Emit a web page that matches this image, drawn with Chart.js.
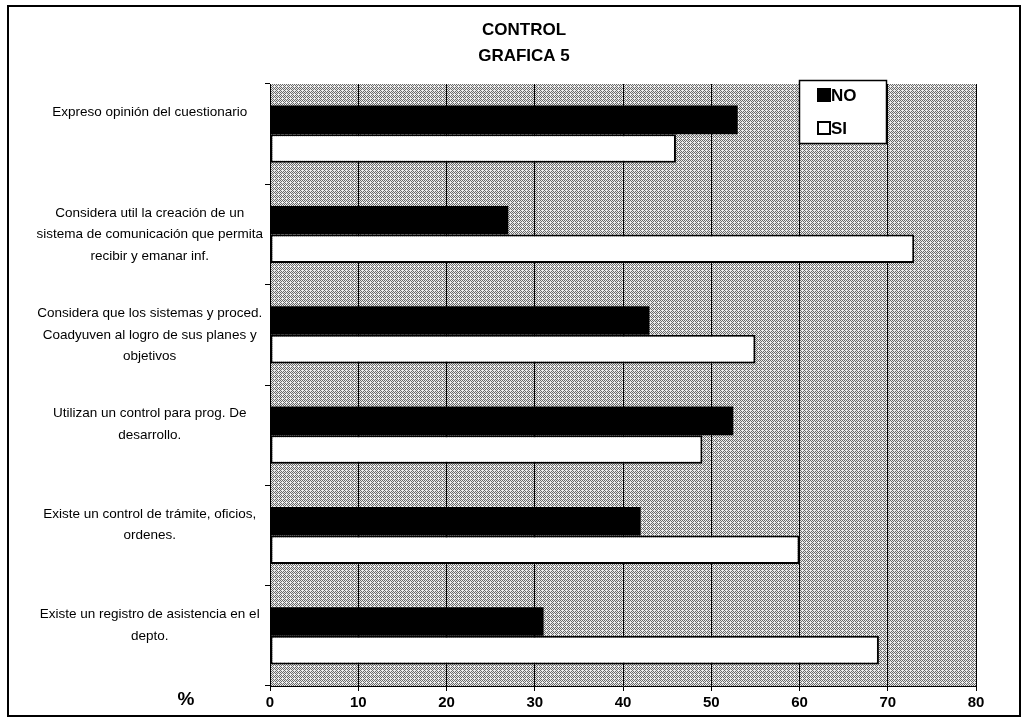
<!DOCTYPE html>
<html>
<head>
<meta charset="utf-8">
<script src="https://cdn.jsdelivr.net/npm/chart.js@4/dist/chart.umd.min.js"></script>
<style>
  html, body { margin: 0; padding: 0; background: #fff; }
  #wrap { position: relative; width: 1034px; height: 727px; }
  #wrap canvas { position: absolute; left: 0; top: 0; }
  #frame { position: absolute; left: 7px; top: 5px; width: 1014px; height: 712px;
           border: 2px solid #000; box-sizing: border-box; pointer-events: none; }
</style>
</head>
<body>
<div id="wrap">
  <canvas id="chart" width="1034" height="727"></canvas>
  <div id="frame"></div>
</div>
<script>
// Survey items (each padded to three lines so the text sits from the top like the original sheet)
const categories = [
  ['Expreso opinión del cuestionario', '', ''],
  ['Considera util la creación de un', 'sistema de comunicación que permita', 'recibir y emanar inf.'],
  ['Considera que los sistemas y proced.', 'Coadyuven al logro de sus planes y', 'objetivos'],
  ['Utilizan un control para prog. De', 'desarrollo.', ''],
  ['Existe un control de trámite, oficios,', 'ordenes.', ''],
  ['Existe un registro de asistencia en el', 'depto.', '']
];
const seriesNames = ['NO', 'SI'];
const noValues = [53, 27, 43, 52.5, 42, 31];
const siValues = [46, 73, 55, 49, 60, 69];
const xTicks = [0, 10, 20, 30, 40, 50, 60, 70, 80];
const chartTitle = ['CONTROL', 'GRAFICA 5'];
const axisUnit = '%';

const FONT = '"Liberation Sans", Arial, Helvetica, sans-serif';

// Halftone-like grey fill for the plot area
function makeStipple() {
  const c = document.createElement('canvas');
  c.width = 4; c.height = 4;
  const g = c.getContext('2d');
  g.fillStyle = '#ececec';
  g.fillRect(0, 0, 4, 4);
  g.fillStyle = '#6a6a6a';
  for (let y = 0; y < 4; y++) {
    for (let x = 0; x < 4; x++) {
      if ((x + y) % 2 === 0 && !(x === 2 && y === 2)) g.fillRect(x, y, 1, 1);
    }
  }
  return c;
}

const plotBackground = {
  id: 'plotBackground',
  beforeDraw(chart) {
    const { ctx, chartArea: a } = chart;
    ctx.save();
    ctx.fillStyle = ctx.createPattern(makeStipple(), 'repeat');
    ctx.fillRect(a.left, a.top, a.right - a.left, a.bottom - a.top);
    ctx.restore();
  }
};

const decorations = {
  id: 'decorations',
  afterDraw(chart) {
    const { ctx } = chart;
    ctx.save();
    // title
    ctx.fillStyle = '#000';
    ctx.font = 'bold 17px ' + FONT;
    ctx.textAlign = 'center';
    ctx.textBaseline = 'middle';
    chartTitle.forEach((t, i) => ctx.fillText(t, 524, 30 + i * 26));

    // unit label beside the value axis
    ctx.font = 'bold 19px ' + FONT;
    ctx.fillText(axisUnit, 186, 700);

    // legend box inside the plot
    const bx = 799, by = 80, bw = 87, bh = 63;
    ctx.fillStyle = '#fff';
    ctx.fillRect(bx, by, bw, bh);
    ctx.strokeStyle = '#000';
    ctx.lineWidth = 1.5;
    ctx.strokeRect(bx + 0.5, by + 0.5, bw, bh);
    ctx.font = 'bold 17px ' + FONT;
    ctx.textAlign = 'left';
    chart.data.datasets.forEach((ds, i) => {
      const cy = by + 15 + i * 33;
      ctx.fillStyle = ds.backgroundColor;
      ctx.fillRect(bx + 19, cy - 6, 12, 12);
      ctx.strokeStyle = '#000';
      ctx.lineWidth = 2;
      ctx.strokeRect(bx + 19, cy - 6, 12, 12);
      ctx.fillStyle = '#000';
      ctx.fillText(ds.label, bx + 32, cy + 1);
    });
    ctx.restore();
  }
};

new Chart(document.getElementById('chart'), {
  type: 'bar',
  data: {
    labels: categories,
    datasets: [
      { label: seriesNames[0], data: noValues, backgroundColor: '#000', borderWidth: 0 },
      { label: seriesNames[1], data: siValues, backgroundColor: '#fff', borderColor: '#000',
        borderWidth: 2, borderSkipped: false }
    ]
  },
  options: {
    indexAxis: 'y',
    responsive: false,
    animation: false,
    devicePixelRatio: 1,
    categoryPercentage: 0.57,
    barPercentage: 1.0,
    layout: { padding: { left: 8, right: 58, top: 84, bottom: 0 } },
    plugins: { legend: { display: false }, title: { display: false }, tooltip: { enabled: false } },
    scales: {
      x: {
        min: 0, max: 80,
        afterBuildTicks: s => { s.ticks = xTicks.map(v => ({ value: v })); },
        afterFit: s => { s.height = 41; },
        grid: { color: '#000', lineWidth: 1, drawTicks: true, tickLength: 5 },
        border: { display: true, color: '#000', width: 1 },
        ticks: { color: '#000', padding: 3, font: { family: FONT, size: 15, weight: 'bold' } }
      },
      y: {
        afterFit: s => { s.width = 262; },
        grid: { display: true, offset: true, drawOnChartArea: false, drawTicks: true,
                tickLength: 5, color: '#000', lineWidth: 1 },
        border: { display: true, color: '#000', width: 1 },
        ticks: { crossAlign: 'center', padding: 2, autoSkip: false, color: '#000',
                 font: { family: FONT, size: 13.5, lineHeight: 1.6 } }
      }
    }
  },
  plugins: [plotBackground, decorations]
});
</script>
</body>
</html>
